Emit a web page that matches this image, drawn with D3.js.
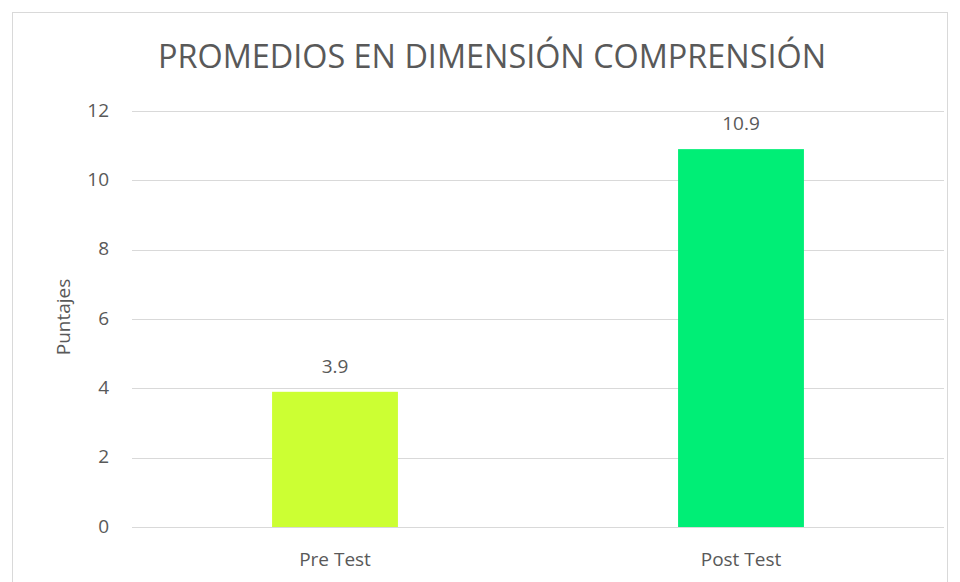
<!DOCTYPE html>
<html>
<head>
<meta charset="utf-8">
<script src="https://cdn.jsdelivr.net/npm/d3@7"></script>
<style>
  body { margin: 0; background: #fff; }
  text { font-family: "Open Sans", sans-serif; fill: #595959; }
</style>
</head>
<body>
<svg width="960" height="582"></svg>
<script>
var categories = ["Pre Test", "Post Test"];
var values = [3.9, 10.9];
var colors = ["#ccff33", "#00ee76"];
var yTicks = [0, 2, 4, 6, 8, 10, 12];

var svg = d3.select("svg");

// chart frame
svg.append("rect")
    .attr("x", 12.5).attr("y", 12.5)
    .attr("width", 935).attr("height", 600)
    .attr("fill", "none")
    .attr("stroke", "#d9d9d9");

var x = d3.scaleBand().domain(categories).range([132, 944])
    .paddingInner(0.69).paddingOuter(0.345);
var y = d3.scaleLinear().domain([0, 12]).range([527, 111]);

// gridlines
svg.append("g")
    .selectAll("line")
    .data(yTicks)
    .enter().append("line")
    .attr("x1", 132).attr("x2", 944)
    .attr("y1", function(d) { return Math.round(y(d)) + 0.5; })
    .attr("y2", function(d) { return Math.round(y(d)) + 0.5; })
    .attr("stroke", "#d9d9d9")
    .attr("stroke-width", 1.2);

// y axis labels
var yAxis = svg.append("g")
    .attr("transform", "translate(109,0)")
    .call(d3.axisLeft(y).tickValues(yTicks).tickSize(0).tickPadding(0));
yAxis.select(".domain").remove();
yAxis.selectAll("text")
    .attr("dy", 5)
    .style("font-family", "'Open Sans', sans-serif")
    .style("font-size", "19px")
    .attr("fill", "#595959");

// x axis labels
var xAxis = svg.append("g")
    .attr("transform", "translate(0,527)")
    .call(d3.axisBottom(x).tickSize(0).tickPadding(0));
xAxis.select(".domain").remove();
xAxis.selectAll("text")
    .attr("dy", 39)
    .style("font-family", "'Open Sans', sans-serif")
    .style("font-size", "19px")
    .attr("fill", "#595959");

// bars
svg.selectAll(".bar")
    .data(values)
    .enter().append("rect")
    .attr("class", "bar")
    .attr("x", function(d, i) { return x(categories[i]); })
    .attr("width", x.bandwidth())
    .attr("y", function(d) { return y(d); })
    .attr("height", function(d) { return y(0) - y(d); })
    .attr("fill", function(d, i) { return colors[i]; });

// value labels
svg.selectAll(".val")
    .data(values)
    .enter().append("text")
    .attr("class", "val")
    .attr("x", function(d, i) { return x(categories[i]) + x.bandwidth() / 2; })
    .attr("y", function(d) { return y(d) - 19; })
    .attr("text-anchor", "middle")
    .style("font-size", "19px")
    .text(function(d) { return d.toFixed(1); });

// title
svg.append("text")
    .attr("x", 492).attr("y", 68)
    .attr("text-anchor", "middle")
    .attr("textLength", 668)
    .attr("lengthAdjust", "spacingAndGlyphs")
    .style("font-size", "32px")
    .text("PROMEDIOS EN DIMENSIÓN COMPRENSIÓN");

// y axis title
svg.append("text")
    .attr("transform", "translate(70,317) rotate(-90)")
    .attr("text-anchor", "middle")
    .style("font-size", "19px")
    .text("Puntajes");
</script>
</body>
</html>
